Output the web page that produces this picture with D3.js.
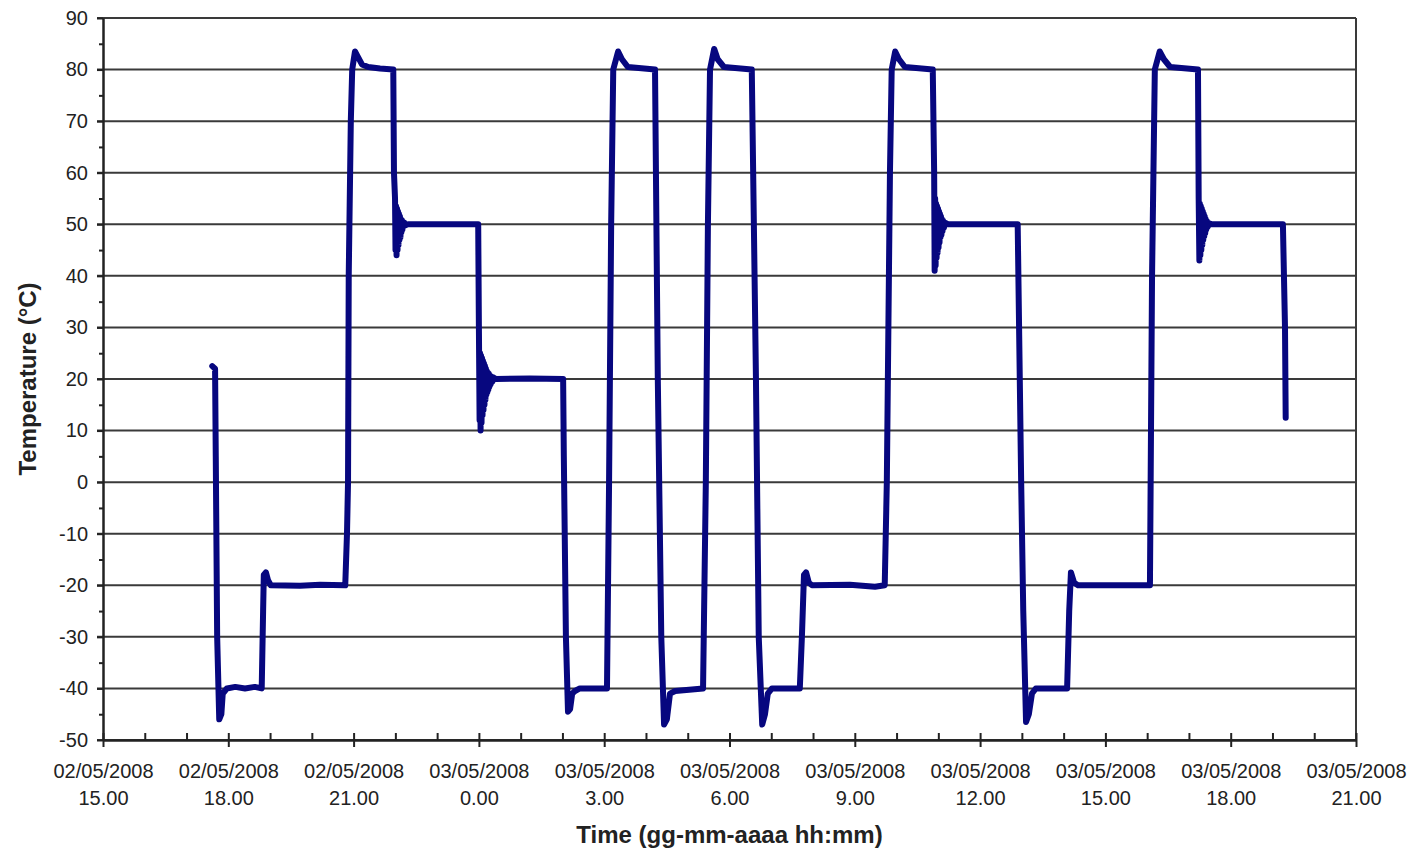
<!DOCTYPE html>
<html>
<head>
<meta charset="utf-8">
<script src="https://cdn.jsdelivr.net/npm/d3@7"></script>
<style>
  body { margin: 0; background: #fff; }
  text { font-family: "Liberation Sans", Arial, sans-serif; fill: #222; }
</style>
</head>
<body>
<script>
// minutes after 02/05/2008 00:00
const timeMin = [
  1057, 1061, 1062, 1064, 1067, 1070, 1072, 1075, 1078, 1090, 1104, 1118, 1128,
  1130, 1131, 1134, 1137, 1141, 1183, 1212, 1248,
  1250.5, 1252, 1253, 1256, 1258, 1262, 1266, 1272, 1281, 1298, 1317,
  1318, 1319.5, 1320.2, 1321, 1321.7, 1322.4, 1323.1, 1323.8, 1324.5, 1325.2, 1325.9, 1326.6,
  1327.3, 1328, 1328.7, 1329.4, 1330.1, 1330.8, 1331.5, 1333, 1334, 1338, 1384, 1439,
  1440, 1441, 1441.7, 1442.4, 1443.1, 1443.8, 1444.5, 1445.2, 1445.9, 1446.6, 1447.3, 1448,
  1448.7, 1449.4, 1450.1, 1450.8, 1451.5, 1452.2, 1452.9, 1453.6, 1454.3, 1455, 1456, 1457,
  1458, 1459.5, 1461, 1464.5, 1513, 1561,
  1562, 1565, 1568, 1571, 1574, 1578, 1585, 1624,
  1627, 1630, 1633, 1640, 1645.5, 1654, 1693,
  1697, 1702, 1706, 1710, 1714.5, 1722, 1762,
  1766, 1769, 1772, 1778, 1783, 1792, 1832,
  1838, 1842, 1847, 1851, 1855, 1861, 1901,
  1904, 1907, 1910, 1914, 1918.5, 1973, 2009, 2023,
  2026, 2030.5, 2033, 2038, 2043.5, 2052, 2092,
  2094, 2094.7, 2095.4, 2096.1, 2096.8, 2097.5, 2098.2, 2098.9, 2099.6, 2100.3, 2101, 2101.7,
  2102.4, 2103.1, 2103.8, 2104.5, 2105.2, 2106, 2107, 2108, 2109.5, 2114, 2214,
  2219, 2222, 2226, 2230, 2234.5, 2240, 2285,
  2288, 2290.5, 2295, 2300.6, 2404,
  2407, 2411, 2418, 2424, 2433, 2473,
  2474, 2475, 2475.7, 2476.4, 2477.1, 2477.8, 2478.5, 2479.2, 2479.9, 2480.6, 2481.3, 2482,
  2482.7, 2483.4, 2484.1, 2485, 2486, 2487, 2489, 2493, 2595,
  2598, 2599
];
const tempC = [
  22.5, 22, 5, -30, -46, -45, -41, -40.5, -40, -39.7, -40, -39.7, -40,
  -25, -18, -17.5, -19, -20, -20.1, -19.9, -20,
  -10, 0, 40, 70, 80, 83.5, 82.5, 81, 80.5, 80.2, 80,
  60, 55, 45, 53.5, 44, 53, 45, 52.5, 46, 52, 47, 51.5,
  47.5, 51, 48.5, 50.8, 49, 50.5, 49.5, 50.3, 49.8, 50, 50, 50,
  30, 12, 25, 10, 24.5, 11.5, 24, 13, 23.5, 14, 23, 15,
  22.5, 16, 22, 17, 21.5, 17.5, 21.2, 18, 21, 18.5, 20.7, 19,
  20.5, 19.5, 20.3, 20, 20.1, 20,
  5, -30, -44.5, -44, -41, -40.5, -40, -40,
  0, 50, 80, 83.5, 82, 80.5, 80,
  20, -30, -47, -46, -41, -40.5, -40,
  0, 50, 80, 84, 82, 80.5, 80,
  20, -30, -47, -45, -41, -40, -40,
  -30, -18, -17.5, -19.5, -20, -19.9, -20.3, -20,
  0, 60, 80, 83.5, 82, 80.5, 80,
  60, 41, 55, 42, 54, 43.5, 53.5, 44.5, 53, 45.5, 52.5, 46.5,
  52, 47.5, 51.5, 48, 51, 48.7, 50.7, 49.3, 50.3, 50, 50,
  0, -25, -46.5, -45, -41, -40, -40,
  -25, -17.5, -19.5, -20, -20,
  40, 80, 83.5, 82, 80.5, 80,
  55, 43, 54, 44, 53.5, 45, 53, 46, 52.5, 47, 52, 47.7,
  51.5, 48.3, 51, 49, 50.6, 49.5, 50.2, 50, 50,
  30, 12.5
];

const yTicks = [-50, -40, -30, -20, -10, 0, 10, 20, 30, 40, 50, 60, 70, 80, 90];
const yMinor = [-45, -35, -25, -15, -5, 5, 15, 25, 35, 45, 55, 65, 75, 85];
const day0 = new Date(2008, 4, 2, 0, 0);
const xDomain = [new Date(2008, 4, 2, 15, 0), new Date(2008, 4, 3, 21, 0)];

const W = 1415, H = 851;
const M = { left: 103, right: 59, top: 18, bottom: 111 };

const data = timeMin.map((m, i) => ({
  t: new Date(day0.getTime() + m * 60000),
  v: tempC[i]
}));

const x = d3.scaleTime().domain(xDomain).range([M.left, W - M.right]);
const y = d3.scaleLinear().domain([-50, 90]).range([H - M.bottom, M.top]);

const svg = d3.select("body").append("svg")
  .attr("width", W)
  .attr("height", H)
  .attr("viewBox", [0, 0, W, H]);

// gridlines
svg.append("g")
  .selectAll("line")
  .data(yTicks)
  .join("line")
  .attr("x1", M.left - 6)
  .attr("x2", W - M.right)
  .attr("y1", d => y(d))
  .attr("y2", d => y(d))
  .attr("stroke", "#3a3a3a")
  .attr("stroke-width", 2);

// right border
svg.append("line")
  .attr("x1", W - M.right).attr("x2", W - M.right)
  .attr("y1", M.top).attr("y2", H - M.bottom)
  .attr("stroke", "#3a3a3a").attr("stroke-width", 2);

// data line
svg.append("path")
  .datum(data)
  .attr("fill", "none")
  .attr("stroke", "#07077f")
  .attr("stroke-width", 6)
  .attr("stroke-linejoin", "round")
  .attr("stroke-linecap", "round")
  .attr("d", d3.line().x(d => x(d.t)).y(d => y(d.v)));

// y axis
const yAxis = svg.append("g")
  .attr("transform", `translate(${M.left},0)`)
  .call(d3.axisLeft(y).tickValues(yTicks).tickSize(6).tickSizeOuter(0)
    .tickPadding(9).tickFormat(d => String(d)));
svg.append("g")
  .attr("transform", `translate(${M.left},0)`)
  .call(d3.axisLeft(y).tickValues(yMinor).tickSize(4).tickSizeOuter(0).tickFormat(""));

// x axis: minor ticks inward, major ticks crossing
const xAxisY = H - M.bottom;
svg.append("g")
  .attr("transform", `translate(0,${xAxisY})`)
  .call(d3.axisTop(x).ticks(d3.timeHour.every(1)).tickSize(7).tickSizeOuter(0).tickFormat(""));
const xAxis = svg.append("g")
  .attr("transform", `translate(0,${xAxisY})`)
  .call(d3.axisBottom(x).ticks(d3.timeHour.every(3)).tickSize(7).tickSizeOuter(0).tickFormat(""));

const fmtDay = d3.timeFormat("%d/%m/%Y");
xAxis.selectAll(".tick")
  .append("text")
  .attr("text-anchor", "middle")
  .attr("font-size", 20)
  .attr("fill", "#222")
  .each(function (d) {
    const t = d3.select(this);
    t.append("tspan").attr("x", 0).attr("y", 38).text(fmtDay(d));
    t.append("tspan").attr("x", 0).attr("y", 65).text(`${d.getHours()}.00`);
  });

svg.selectAll(".domain, .tick line")
  .attr("stroke", "#222")
  .attr("stroke-width", 2);
yAxis.selectAll("text").attr("font-size", 20).attr("fill", "#222");

// titles
svg.append("text")
  .attr("x", (M.left + W - M.right) / 2)
  .attr("y", 843)
  .attr("text-anchor", "middle")
  .attr("font-size", 24)
  .attr("font-weight", "bold")
  .text("Time (gg-mm-aaaa hh:mm)");

svg.append("text")
  .attr("transform", `translate(36,${(M.top + H - M.bottom) / 2}) rotate(-90)`)
  .attr("text-anchor", "middle")
  .attr("font-size", 24)
  .attr("font-weight", "bold")
  .text("Temperature (°C)");
</script>
</body>
</html>
